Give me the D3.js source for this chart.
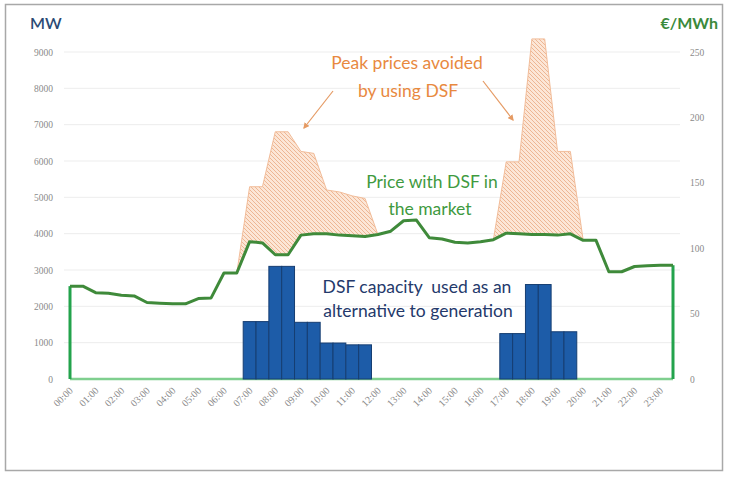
<!DOCTYPE html>
<html>
<head>
<meta charset="utf-8">
<script src="https://cdn.jsdelivr.net/npm/d3@7"></script>
<style>
  html, body { margin: 0; padding: 0; background: #fff; }
  svg { display: block; }
</style>
</head>
<body>
<svg id="chart" width="729" height="477"></svg>
<script>
// ---- DATA ----
const slots = [
  "00:00","00:30","01:00","01:30","02:00","02:30","03:00","03:30",
  "04:00","04:30","05:00","05:30","06:00","06:30","07:00","07:30",
  "08:00","08:30","09:00","09:30","10:00","10:30","11:00","11:30",
  "12:00","12:30","13:00","13:30","14:00","14:30","15:00","15:30",
  "16:00","16:30","17:00","17:30","18:00","18:30","19:00","19:30",
  "20:00","20:30","21:00","21:30","22:00","22:30","23:00","23:30"
];
const hourLabels = ["00:00","01:00","02:00","03:00","04:00","05:00","06:00","07:00",
  "08:00","09:00","10:00","11:00","12:00","13:00","14:00","15:00","16:00","17:00",
  "18:00","19:00","20:00","21:00","22:00","23:00"];
// Price with DSF in the market (€/MWh)
const priceWithDSF = [
  71, 71, 66, 65.5, 64, 63.5, 58.5, 58,
  57.5, 57.5, 61.5, 62, 81, 81, 105, 104,
  95, 95, 110, 111, 111, 110, 109.5, 109,
  110.5, 113, 121, 121.5, 108, 107, 104.5, 104,
  105, 106.5, 111.5, 111, 110.5, 110.5, 110, 111,
  106, 106, 82, 82, 86, 86.5, 87, 87
];
// Price without DSF (€/MWh) – peak prices avoided
const priceWithoutDSF = [
  71, 71, 66, 65.5, 64, 63.5, 58.5, 58,
  57.5, 57.5, 61.5, 62, 81, 81, 147, 147,
  189, 189, 174, 172.5, 144.5, 143, 140, 138,
  110.5, 113, 121, 121.5, 108, 107, 104.5, 104,
  105, 106.5, 166, 166, 260, 260, 174, 174,
  106, 106, 82, 82, 86, 86.5, 87, 87
];
// DSF capacity used (MW)
const dsfCapacity = [
  0, 0, 0, 0, 0, 0, 0, 0,
  0, 0, 0, 0, 0, 0, 1580, 1580,
  3100, 3100, 1560, 1560, 990, 990, 940, 940,
  0, 0, 0, 0, 0, 0, 0, 0,
  0, 0, 1250, 1250, 2600, 2600, 1300, 1300,
  0, 0, 0, 0, 0, 0, 0, 0
];
const mwTicks = [0, 1000, 2000, 3000, 4000, 5000, 6000, 7000, 8000, 9000];
const priceTicks = [0, 50, 100, 150, 200, 250];

// ---- LAYOUT ----
const svg = d3.select("#chart");
const X0 = 70, X1 = 673, YB = 379, YT = 52;
const x = d3.scalePoint().domain(slots).range([X0, X1]);
const step = x.step();
const yL = d3.scaleLinear().domain([0, 9000]).range([YB, YT]);
const yR = d3.scaleLinear().domain([0, 250]).range([YB, YT]);
const font = "Lato, 'Open Sans', sans-serif";
const tickFont = "'Liberation Serif', serif";

// frame
svg.append("rect").attr("x", 5.5).attr("y", 4.5).attr("width", 717).attr("height", 466)
  .attr("fill", "#fff").attr("stroke", "#a8a8a8").attr("stroke-width", 1.5);

// defs: hatch pattern + arrow
const defs = svg.append("defs");
const pat = defs.append("pattern").attr("id", "hatch").attr("patternUnits", "userSpaceOnUse")
  .attr("width", 4).attr("height", 4);
pat.append("rect").attr("width", 4).attr("height", 4).attr("fill", "#fce6d6");
pat.append("path").attr("d", "M-1,-1 L5,5 M-1,3 L1,5 M3,-1 L5,1")
  .attr("stroke", "#eaa983").attr("stroke-width", 0.8);
defs.append("marker").attr("id", "arr").attr("viewBox", "0 0 10 10").attr("refX", 8).attr("refY", 5)
  .attr("markerWidth", 5).attr("markerHeight", 5).attr("orient", "auto")
  .append("path").attr("d", "M0,0 L10,5 L0,10 z").attr("fill", "#e59a63");

// gridlines
svg.append("g").selectAll("line").data(mwTicks.filter(d => d > 0)).join("line")
  .attr("x1", 64).attr("x2", 680)
  .attr("y1", d => yL(d)).attr("y2", d => yL(d))
  .attr("stroke", "#ededed").attr("stroke-width", 1);

// left axis
const axL = d3.axisLeft(yL).tickValues(mwTicks).tickFormat(d3.format("d")).tickSize(0).tickPadding(0);
const gL = svg.append("g").attr("transform", "translate(53,0)").call(axL);
gL.select(".domain").remove();
gL.selectAll("text").attr("font-family", tickFont).attr("font-size", 9.5)
  .attr("fill", "#8a8a8a");

// right axis
const axR = d3.axisRight(yR).tickValues(priceTicks).tickFormat(d3.format("d")).tickSize(0).tickPadding(0);
const gR = svg.append("g").attr("transform", "translate(690,0)").call(axR);
gR.select(".domain").remove();
gR.selectAll("text").attr("font-family", tickFont).attr("font-size", 9.5)
  .attr("fill", "#8a8a8a");

// x axis labels
const hourScale = d3.scalePoint().domain(hourLabels)
  .range([x("00:00"), x("23:00")]);
const axX = d3.axisBottom(hourScale).tickSize(0).tickPadding(0);
const gX = svg.append("g").attr("transform", `translate(1,${YB + 10})`).call(axX);
gX.select(".domain").remove();
gX.selectAll("text")
  .attr("font-family", tickFont).attr("font-size", 10).attr("fill", "#8a8a8a")
  .attr("text-anchor", "end").attr("dy", "0.3em")
  .attr("transform", "rotate(-45)");

// axis titles
svg.append("text").attr("x", 30).attr("y", 29).text("MW")
  .attr("font-family", font).attr("font-size", 16).attr("font-weight", 600).attr("fill", "#2b4a74");
svg.append("text").attr("x", 718).attr("y", 29).attr("text-anchor", "end").text("€/MWh")
  .attr("font-family", font).attr("font-size", 16).attr("font-weight", 700).attr("fill", "#3b8a3b");

// hatched area (peak prices avoided)
const idx = d3.range(slots.length);
const hatchArea = d3.area()
  .defined(i => priceWithoutDSF[i] > priceWithDSF[i] ||
    (i > 0 && priceWithoutDSF[i - 1] > priceWithDSF[i - 1]) ||
    (i < slots.length - 1 && priceWithoutDSF[i + 1] > priceWithDSF[i + 1]))
  .x(i => x(slots[i]))
  .y0(i => yR(priceWithDSF[i]))
  .y1(i => yR(priceWithoutDSF[i]));
svg.append("path").datum(idx).attr("d", hatchArea)
  .attr("fill", "url(#hatch)").attr("stroke", "#f2bd9a").attr("stroke-width", 1);

// baseline and side edges of the price area
svg.append("line").attr("x1", X0).attr("x2", X1).attr("y1", YB).attr("y2", YB)
  .attr("stroke", "#7fcf8f").attr("stroke-width", 2.5);
svg.append("line").attr("x1", X0).attr("x2", X0).attr("y1", YB).attr("y2", yR(priceWithDSF[0]))
  .attr("stroke", "#23a34c").attr("stroke-width", 3);
svg.append("line").attr("x1", X1).attr("x2", X1).attr("y1", YB)
  .attr("y2", yR(priceWithDSF[slots.length - 1]))
  .attr("stroke", "#23a34c").attr("stroke-width", 3);

// bars
svg.append("g").selectAll("rect").data(idx.filter(i => dsfCapacity[i] > 0)).join("rect")
  .attr("x", i => x(slots[i]) - step / 2)
  .attr("width", step)
  .attr("y", i => yL(dsfCapacity[i]))
  .attr("height", i => YB - yL(dsfCapacity[i]))
  .attr("fill", "#1d5ca8").attr("stroke", "#163e72").attr("stroke-width", 1);

// price line
const line = d3.line().x(i => x(slots[i])).y(i => yR(priceWithDSF[i]));
svg.append("path").datum(idx).attr("d", line)
  .attr("fill", "none").attr("stroke", "#3f8a3a").attr("stroke-width", 3)
  .attr("stroke-linejoin", "round");

// annotations
const fs = 17.5;
const orange = "#e8893f";
svg.append("text").attr("x", 407).attr("y", 69).attr("text-anchor", "middle")
  .text("Peak prices avoided").attr("font-family", font).attr("font-size", fs).attr("fill", orange);
svg.append("text").attr("x", 408).attr("y", 97).attr("text-anchor", "middle")
  .text("by using DSF").attr("font-family", font).attr("font-size", fs).attr("fill", orange);
svg.append("line").attr("x1", 333).attr("y1", 91).attr("x2", 304).attr("y2", 128)
  .attr("stroke", "#e59a63").attr("stroke-width", 1.2).attr("marker-end", "url(#arr)");
svg.append("line").attr("x1", 483).attr("y1", 81).attr("x2", 513).attr("y2", 120)
  .attr("stroke", "#e59a63").attr("stroke-width", 1.2).attr("marker-end", "url(#arr)");

const green = "#3f9a3f";
svg.append("text").attr("x", 432).attr("y", 188).attr("text-anchor", "middle")
  .text("Price with DSF in").attr("font-family", font).attr("font-size", fs).attr("fill", green);
svg.append("text").attr("x", 430).attr("y", 215).attr("text-anchor", "middle")
  .text("the market").attr("font-family", font).attr("font-size", fs).attr("fill", green);

const navy = "#24396b";
svg.append("text").attr("x", 417).attr("y", 293).attr("text-anchor", "middle")
  .text("DSF capacity  used as an").attr("font-family", font).attr("font-size", fs).attr("fill", navy)
  .style("white-space", "pre");
svg.append("text").attr("x", 418).attr("y", 317).attr("text-anchor", "middle")
  .text("alternative to generation").attr("font-family", font).attr("font-size", fs).attr("fill", navy);
</script>
</body>
</html>
